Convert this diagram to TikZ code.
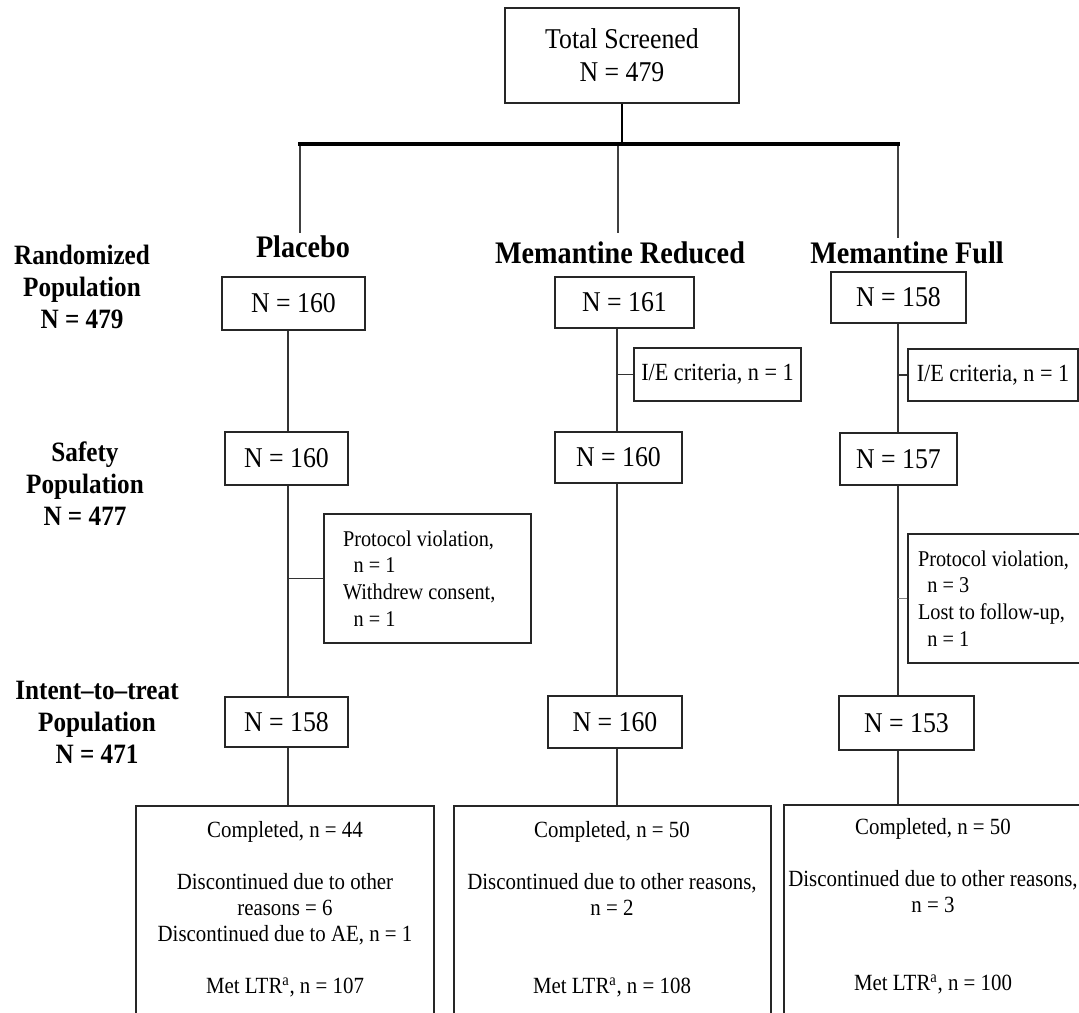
\documentclass[tikz,border=0pt]{standalone}
\usepackage{fontspec}
\setmainfont{Liberation Serif}[FakeStretch=0.9]
\newcommand\flowbox[5][]{%
  \node[bx, minimum width={(#4-#2)*0.75pt}, minimum height={(#5-#3)*0.75pt}, #1] at ({(#2+#4)/2},{(#3+#5)/2})}
\tikzset{
  bx/.style={draw=black!85, line width=1.5pt, inner sep=0pt, fill=white, align=center,
    font=\fontsize{21.5}{24.75}\selectfont},
  iebox/.style={font=\fontsize{18.5}{21}\selectfont},
  sidebox/.style={align=flush left, font=\fontsize{16.9}{20}\selectfont},
  sm/.style={align=center, inner sep=0pt, font=\fontsize{17.4}{19.5}\selectfont},
  head/.style={inner sep=0pt, font=\bfseries\fontsize{23.5}{27}\selectfont},
  lab/.style={inner sep=0pt, align=center, font=\bfseries\fontsize{21}{24}\selectfont},
  conn/.style={draw=black!80, line width=1.3pt},
  drop/.style={draw=black!75, line width=1.3pt},
}
\begin{document}
\begin{tikzpicture}[x=0.75pt,y=-0.75pt]
\path[use as bounding box, fill=white] (0,0) rectangle (1079,1013);

% top box and splitter
\flowbox{505}{8}{739}{103} (ts) {Total Screened\\N = 479};
\coordinate (bl) at (298,144);
\coordinate (br) at (900,144);
\coordinate (pd) at (300,144); \coordinate (pe) at (300,233);
\coordinate (rd) at (618,144); \coordinate (re) at (618,233);
\coordinate (fd) at (898,144); \coordinate (fe) at (898,238);
\draw[line width=2.2pt] (ts.south) -- (ts.south |- bl);
\draw[drop] (pd) -- (pe);
\draw[drop] (rd) -- (re);
\draw[drop] (fd) -- (fe);
\draw[line width=3pt] (bl) -- (br);

% column axes
\coordinate (pc) at (288,0);
\coordinate (rc) at (617,0);
\coordinate (fc) at (898,0);

% headings
\node[head] (hp) at (303,247) {Placebo};
\node[head] (hr) at (620,253) {Memantine Reduced};
\node[head] (hf) at (907,253) {Memantine Full};

% row labels
\node[lab] (lr) at (82,287) {Randomized\\Population\\N = 479};
\node[lab] (ls) at (85,484) {Safety\\Population\\N = 477};
\node[lab] (li) at (97,722) {Intent--to--treat\\Population\\N = 471};

% row 1
\flowbox{222}{277}{365}{330} (p1) {N = 160};
\flowbox{555}{277}{694}{328} (r1) {N = 161};
\flowbox{831}{272}{966}{323} (f1) {N = 158};
% exclusions
\flowbox[iebox]{634}{348}{801}{401} (rie) {I/E criteria, n = 1};
\flowbox[iebox]{908}{349}{1078}{401} (fie) {I/E criteria, n = 1};
% row 2
\flowbox{225}{432}{348}{485} (p2) {N = 160};
\flowbox{555}{432}{682}{483} (r2) {N = 160};
\flowbox{840}{433}{957}{485} (f2) {N = 157};
% side boxes
\flowbox[sidebox, inner xsep=14.25pt, text width=126.75pt]{324}{514}{531}{643} (ps)
  {Protocol violation,\\\hspace*{8pt}n = 1\\Withdrew consent,\\\hspace*{8pt}n = 1};
\flowbox[sidebox, inner xsep=7.5pt, text width=121.5pt]{908}{534}{1090}{663} (fs)
  {Protocol violation,\\\hspace*{7pt}n = 3\\Lost to follow-up,\\\hspace*{7pt}n = 1};
% row 3
\flowbox{225}{697}{348}{747} (p3) {N = 158};
\flowbox{548}{696}{682}{748} (r3) {N = 160};
\flowbox{839}{696}{974}{750} (f3) {N = 153};
% bottom boxes
\flowbox{136}{806}{434}{1018} (pb) {};
\flowbox{454}{806}{771}{1018} (rb) {};
\flowbox{784}{805}{1092}{1018} (fb) {};

\node[sm, anchor=north] (pbt) at (285,821) {Completed, n = 44\\[19.5pt]Discontinued due to other\\reasons = 6\\Discontinued due to AE, n = 1\\[19.5pt]Met LTR\textsuperscript{a}, n = 107};
\node[sm, anchor=north] (rbt) at (612,821) {Completed, n = 50\\[19.5pt]Discontinued due to other reasons,\\n = 2\\[39pt]Met LTR\textsuperscript{a}, n = 108};
\node[sm, anchor=north] (fbt) at (933,818) {Completed, n = 50\\[19.5pt]Discontinued due to other reasons,\\n = 3\\[39pt]Met LTR\textsuperscript{a}, n = 100};

% vertical connectors
\draw[conn] (p1.south -| pc) -- (p2.north -| pc);
\draw[conn] (p2.south -| pc) -- (p3.north -| pc);
\draw[conn] (p3.south -| pc) -- (pb.north -| pc);
\draw[conn] (r1.south -| rc) -- (r2.north -| rc);
\draw[conn] (r2.south -| rc) -- (r3.north -| rc);
\draw[conn] (r3.south -| rc) -- (rb.north -| rc);
\draw[conn] (f1.south -| fc) -- (f2.north -| fc);
\draw[conn] (f2.south -| fc) -- (f3.north -| fc);
\draw[conn] (f3.south -| fc) -- (fb.north -| fc);

% side connectors
\draw[conn] (rie.west -| rc) -- (rie.west);
\draw[conn] (fie.west -| fc) -- (fie.west);
\draw[conn] (ps.west -| pc) -- (ps.west);
\draw[conn, draw=gray] (fs.west -| fc) -- (fs.west);
\end{tikzpicture}
\end{document}
